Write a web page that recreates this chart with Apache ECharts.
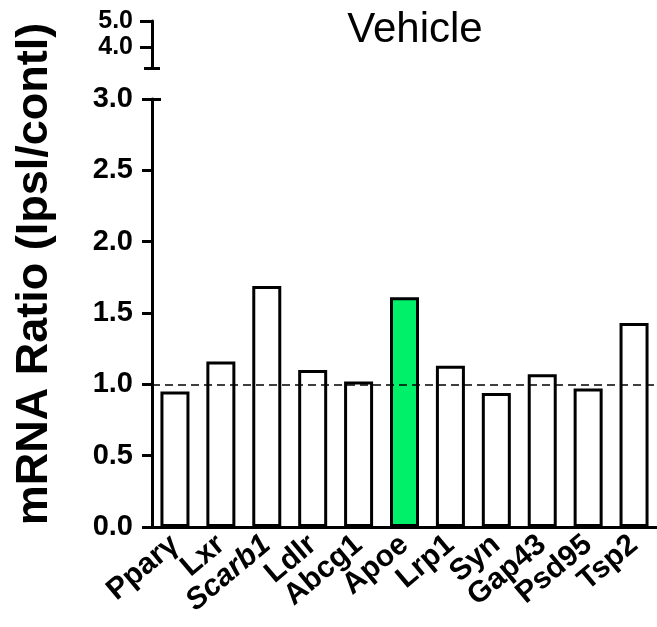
<!DOCTYPE html>
<html>
<head>
<meta charset="utf-8">
<script src="https://cdn.jsdelivr.net/npm/echarts@6/dist/echarts.min.js"></script>
<style>
  html, body { margin: 0; padding: 0; background: #fff; }
  #chart { width: 657px; height: 627px; }
</style>
</head>
<body>
<div id="chart"></div>
<script>
// Gene names along the x axis
const genes = ['Pparγ', 'Lxr', 'Scarb1', 'Ldlr', 'Abcg1', 'Apoe', 'Lrp1', 'Syn', 'Gap43', 'Psd95', 'Tsp2'];
// mRNA ratio, ipsilateral / contralateral
const ratios = [0.95, 1.16, 1.69, 1.10, 1.02, 1.61, 1.13, 0.94, 1.07, 0.97, 1.43];
// Gene drawn with a filled bar
const highlighted = 'Apoe';
// Gene names set in italics
const italicGenes = ['Scarb1'];
// Tick labels on the lower (0–3) and upper (broken) axis segments
const lowerTicks = [0, 0.5, 1.0, 1.5, 2.0, 2.5, 3.0];
const upperTicks = [4.0, 5.0];
const baseline = 1.0;

const FONT = "'Liberation Sans', Arial, Helvetica, sans-serif";
const chart = echarts.init(document.getElementById('chart'), null, { renderer: 'canvas' });

const axisLineStyle = { color: '#000', width: 3 };
const tickStyle = { color: '#000', width: 3 };

// Tick-only overlay axis, used for the caps either side of the axis break
function capAxis(gridIndex, min, max, value, inside, length) {
  return {
    type: 'value', gridIndex, min, max, position: 'left', offset: 0,
    axisLine: { show: false }, splitLine: { show: false }, axisLabel: { show: false },
    axisTick: { show: true, inside, length, lineStyle: tickStyle, customValues: [value] }
  };
}

const option = {
  animation: false,
  backgroundColor: '#fff',
  grid: [
    { left: 152, right: -3, top: 99, height: 428 },   // main plot, 0–3
    { left: 152, right: -3, top: 21, height: 47 }     // broken-axis segment, 3.2–5
  ],
  xAxis: [
    {
      type: 'category', gridIndex: 0, data: genes,
      axisLine: { lineStyle: axisLineStyle },
      axisTick: { show: false },
      axisLabel: {
        interval: 0, rotate: 40, margin: 14,
        fontFamily: FONT, fontSize: 30, fontWeight: 'bold', color: '#000',
        formatter: v => italicGenes.includes(v) ? '{i|' + v + '}' : v,
        rich: { i: { fontStyle: 'italic', fontWeight: 'bold', fontFamily: FONT, fontSize: 30, color: '#000' } }
      }
    },
    { type: 'category', gridIndex: 1, data: genes, show: false }
  ],
  yAxis: [
    {
      type: 'value', gridIndex: 0, min: 0, max: 3, interval: 0.5, position: 'left',
      axisLine: { show: true, lineStyle: axisLineStyle },
      axisTick: { show: true, length: 10, lineStyle: tickStyle },
      splitLine: { show: false },
      axisLabel: {
        margin: 19, fontFamily: FONT, fontSize: 29, fontWeight: 'bold', color: '#000',
        customValues: lowerTicks,
        formatter: v => v.toFixed(1)
      }
    },
    capAxis(0, 0, 3, 3, true, 9),
    {
      type: 'value', gridIndex: 1, min: 3.2, max: 5, position: 'left',
      axisLine: { show: true, lineStyle: axisLineStyle },
      splitLine: { show: false },
      axisTick: { show: true, length: 12, lineStyle: tickStyle, customValues: upperTicks },
      axisLabel: {
        margin: 19, fontFamily: FONT, fontSize: 25, fontWeight: 'bold', color: '#000',
        customValues: upperTicks,
        formatter: v => v.toFixed(1)
      }
    },
    capAxis(1, 3.2, 5, 3.2, true, 8),
    capAxis(1, 3.2, 5, 3.2, false, 8)
  ],
  series: [
    {
      type: 'bar', xAxisIndex: 0, yAxisIndex: 0,
      barWidth: 29,
      data: ratios.map((v, i) => ({
        value: v,
        itemStyle: { color: genes[i] === highlighted ? '#00f06a' : '#fff' }
      })),
      itemStyle: { borderColor: '#000', borderWidth: 3 },
      markLine: {
        silent: true, symbol: 'none', label: { show: false },
        lineStyle: { color: '#000', width: 1.5, type: [8, 5] },
        data: [{ yAxis: baseline }]
      }
    }
  ],
  graphic: [
    {
      type: 'text', x: 415, y: 30,
      style: { text: 'Vehicle', fontFamily: FONT, fontSize: 42, fill: '#000', textAlign: 'center', textVerticalAlign: 'middle' }
    },
    {
      type: 'text', x: 35, y: 274, rotation: Math.PI / 2,
      style: { text: 'mRNA Ratio (Ipsl/contl)', fontFamily: FONT, fontSize: 45, fontWeight: 'bold', fill: '#000', textAlign: 'center', textVerticalAlign: 'middle' }
    }
  ]
};

chart.setOption(option);
</script>
</body>
</html>
